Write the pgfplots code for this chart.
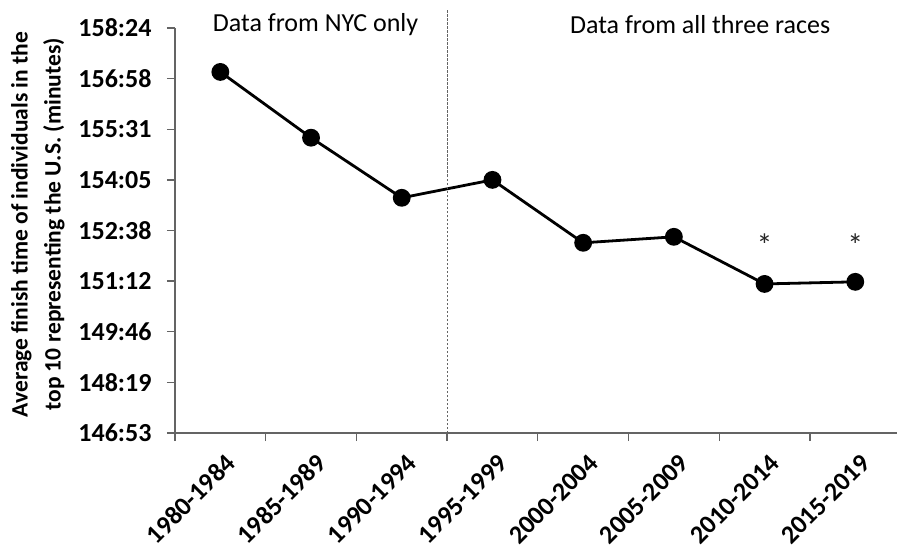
\documentclass[border=0pt]{standalone}
\usepackage{pgfplots}
\pgfplotsset{compat=1.18}
\usepackage{fontspec}
\setmainfont{Carlito}
\definecolor{axgray}{RGB}{100,100,100}
\begin{document}
\begin{tikzpicture}
\useasboundingbox (-175pt,-111pt) rectangle (722pt,433pt);
\begin{axis}[
  at={(0pt,0pt)}, anchor=south west,
  scale only axis, width=722pt, height=405pt,
  xmin=-0.5, xmax=7.46, ymin=146.88, ymax=158.40,
  axis x line*=bottom, axis y line*=left,
  axis line style={axgray, line width=1.3pt},
  clip=false,
  xtick={0,...,7},
  xticklabels={1980-1984,1985-1989,1990-1994,1995-1999,2000-2004,2005-2009,2010-2014,2015-2019},
  minor xtick={-0.5,0.5,1.5,2.5,3.5,4.5,5.5,6.5},
  major x tick style={draw=none},
  ytick={146.88,148.32,149.76,151.20,152.64,154.08,155.52,156.96,158.40},
  yticklabels={146:53,148:19,149:46,151:12,152:38,154:05,155:31,156:58,158:24},
  tick align=outside,
  major tick length=8pt, minor tick length=8pt,
  tick style={axgray, line width=1.3pt},
  yticklabel style={font=\fontsize{26}{30}\selectfont\bfseries, black, xshift=-12pt},
  xticklabel style={font=\fontsize{26}{30}\selectfont\bfseries, black, rotate=45, anchor=east, xshift=-2pt, yshift=-20pt},
  ylabel={Average finish time of individuals in the\\top 10 representing the U.S. (minutes)},
  ylabel style={at={(rel axis cs:-0.19,0.515)}, anchor=center, align=center,
    font=\fontsize{23.5}{33}\selectfont\bfseries, black},
]
\addplot[black, line width=2.8pt, mark=*, mark size=7.5pt, mark options={solid, fill=black}]
  coordinates {(0,157.15) (1,155.28) (2,153.57) (3,154.08) (4,152.29) (5,152.46) (6,151.12) (7,151.18)};
\draw[axgray, line width=1pt, dash pattern=on 2.5pt off 1.5pt] (axis cs:2.5,146.88) -- (axis cs:2.5,158.91);
\node[font=\fontsize{26}{30}\selectfont, black] at (axis cs:1.05,158.51) {Data from NYC only};
\node[font=\fontsize{26}{30}\selectfont, black] at (axis cs:5.29,158.51) {Data from all three races};
\node[font=\fontsize{32}{36}\selectfont, black!85] at (axis cs:6,152.22) {*};
\node[font=\fontsize{32}{36}\selectfont, black!85] at (axis cs:7,152.22) {*};
\end{axis}
\end{tikzpicture}
\end{document}
